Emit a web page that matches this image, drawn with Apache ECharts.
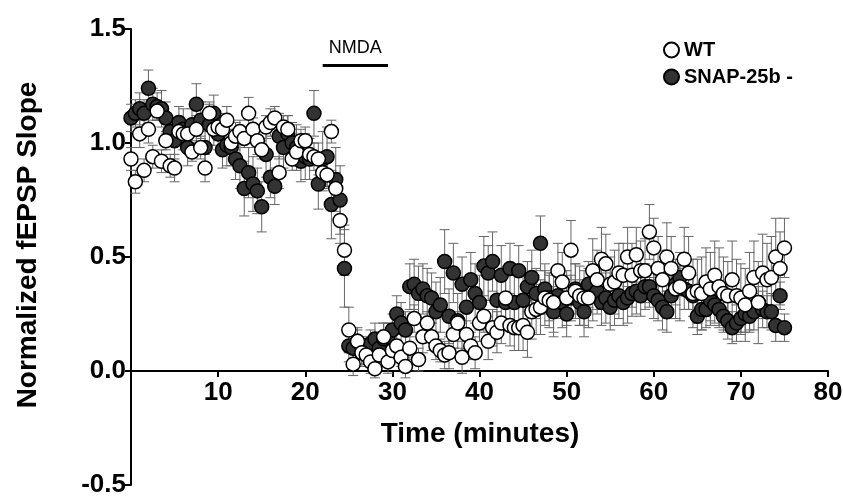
<!DOCTYPE html>
<html><head><meta charset="utf-8">
<script src="https://cdn.jsdelivr.net/npm/echarts@6/dist/echarts.min.js"></script>
<style>html,body{margin:0;padding:0;background:#fff}#c{width:843px;height:496px}</style>
</head><body><div id="c"></div>
<script>
// Time (minutes), sampled every 30 s
const time = [0,0.5,1,1.5,2,2.5,3,3.5,4,4.5,5,5.5,6,6.5,7,7.5,8,8.5,9,9.5,10,
10.5,11,11.5,12,12.5,13,13.5,14,14.5,15,15.5,16,16.5,17,17.5,18,18.5,19,19.5,20,
20.5,21,21.5,22,22.5,23,23.5,24,24.5,25,25.5,26,26.5,27,27.5,28,28.5,29,29.5,30,
30.5,31,31.5,32,32.5,33,33.5,34,34.5,35,35.5,36,36.5,37,37.5,38,38.5,39,39.5,40,
40.5,41,41.5,42,42.5,43,43.5,44,44.5,45,45.5,46,46.5,47,47.5,48,48.5,49,49.5,50,
50.5,51,51.5,52,52.5,53,53.5,54,54.5,55,55.5,56,56.5,57,57.5,58,58.5,59,59.5,60,
60.5,61,61.5,62,62.5,63,63.5,64,64.5,65,65.5,66,66.5,67,67.5,68,68.5,69,69.5,70,
70.5,71,71.5,72,72.5,73,73.5,74,74.5,75];

const wtMean = [0.93,0.83,1.04,0.88,1.06,0.94,1.14,0.92,1.01,0.90,0.89,1.05,1.04,1.04,0.96,1.06,0.98,0.89,1.13,1.06,1.07,
1.06,1.10,1.00,1.03,1.05,1.02,1.13,1.06,1.01,0.97,1.07,1.09,1.11,0.87,1.07,1.06,0.93,0.96,1.01,1.01,
0.95,0.94,0.93,0.87,0.86,1.05,0.80,0.66,0.53,0.18,0.03,0.13,0.08,0.07,0.04,0.01,0.07,0.15,0.04,0.09,
0.11,0.06,0.02,0.10,0.23,0.05,0.15,0.21,0.15,0.11,0.09,0.07,0.08,0.16,0.21,0.06,0.16,0.11,0.08,0.21,
0.24,0.13,0.19,0.17,0.21,0.32,0.20,0.19,0.19,0.20,0.17,0.26,0.27,0.28,0.32,0.31,0.30,0.44,0.39,0.32,
0.53,0.35,0.33,0.32,0.32,0.44,0.40,0.49,0.47,0.38,0.39,0.43,0.42,0.50,0.42,0.51,0.44,0.44,0.61,0.54,
0.45,0.40,0.50,0.45,0.36,0.37,0.49,0.43,0.34,0.35,0.34,0.39,0.36,0.42,0.37,0.34,0.33,0.40,0.33,0.32,
0.29,0.35,0.41,0.30,0.43,0.40,0.41,0.50,0.45,0.54];

const wtErr = [0.05,0.05,0.06,0.05,0.06,0.05,0.04,0.05,0.04,0.05,0.06,0.04,0.05,0.05,0.04,0.06,0.05,0.06,0.05,0.07,0.06,
0.05,0.06,0.05,0.06,0.05,0.04,0.07,0.05,0.06,0.04,0.05,0.06,0.05,0.07,0.05,0.06,0.05,0.06,0.05,0.06,
0.05,0.06,0.07,0.08,0.06,0.05,0.07,0.10,0.11,0.10,0.05,0.06,0.05,0.04,0.05,0.04,0.05,0.06,0.05,0.04,
0.05,0.04,0.05,0.05,0.06,0.05,0.07,0.05,0.06,0.06,0.05,0.06,0.07,0.06,0.05,0.07,0.06,0.06,0.07,0.08,
0.07,0.08,0.08,0.09,0.09,0.10,0.09,0.10,0.10,0.11,0.11,0.12,0.11,0.12,0.12,0.12,0.13,0.12,0.13,0.12,
0.13,0.12,0.13,0.12,0.13,0.14,0.13,0.14,0.13,0.12,0.14,0.13,0.14,0.13,0.14,0.12,0.13,0.14,0.12,0.13,
0.14,0.13,0.15,0.14,0.13,0.15,0.14,0.16,0.15,0.14,0.16,0.15,0.16,0.15,0.17,0.16,0.15,0.17,0.16,0.15,
0.16,0.17,0.16,0.18,0.17,0.16,0.18,0.17,0.16,0.13];

const snapMean = [1.11,1.13,1.15,1.13,1.24,1.17,1.16,1.15,1.11,1.05,1.01,1.09,1.06,0.98,1.08,1.17,1.10,0.98,1.08,1.13,1.04,
0.97,0.99,0.98,0.93,0.90,0.80,0.87,0.82,0.79,0.72,0.95,0.85,0.81,1.03,0.98,1.04,1.00,0.98,0.92,0.94,
0.93,1.13,0.82,0.93,0.94,0.73,0.84,0.75,0.45,0.11,0.10,0.13,0.08,0.10,0.12,0.14,0.10,0.14,0.15,0.18,
0.25,0.21,0.18,0.37,0.38,0.34,0.36,0.33,0.32,0.26,0.29,0.48,0.24,0.43,0.22,0.38,0.28,0.40,0.34,0.30,
0.46,0.43,0.48,0.31,0.42,0.30,0.45,0.30,0.44,0.31,0.37,0.41,0.34,0.56,0.36,0.32,0.26,0.33,0.30,0.25,
0.32,0.36,0.30,0.26,0.38,0.33,0.35,0.30,0.32,0.28,0.31,0.33,0.30,0.32,0.34,0.35,0.33,0.37,0.37,0.33,
0.31,0.28,0.26,0.33,0.38,0.41,0.36,0.35,0.33,0.24,0.27,0.27,0.31,0.29,0.27,0.24,0.22,0.19,0.21,0.23,
0.25,0.24,0.26,0.30,0.27,0.26,0.26,0.20,0.33,0.19];

const snapErr = [0.06,0.06,0.07,0.06,0.08,0.07,0.06,0.08,0.07,0.06,0.08,0.07,0.09,0.08,0.07,0.09,0.08,0.07,0.09,0.08,0.07,
0.08,0.09,0.08,0.09,0.10,0.12,0.11,0.12,0.10,0.11,0.10,0.09,0.08,0.10,0.09,0.08,0.09,0.10,0.09,0.10,
0.09,0.10,0.11,0.12,0.13,0.15,0.14,0.15,0.17,0.07,0.06,0.05,0.06,0.05,0.06,0.07,0.06,0.07,0.06,0.07,
0.08,0.09,0.08,0.10,0.11,0.12,0.11,0.12,0.11,0.13,0.12,0.14,0.12,0.13,0.12,0.12,0.13,0.12,0.13,0.12,
0.13,0.12,0.13,0.12,0.13,0.12,0.11,0.12,0.11,0.12,0.11,0.12,0.11,0.12,0.11,0.10,0.11,0.10,0.11,0.10,
0.10,0.11,0.10,0.11,0.10,0.11,0.10,0.10,0.11,0.10,0.11,0.10,0.10,0.11,0.10,0.10,0.09,0.10,0.09,0.10,
0.09,0.10,0.09,0.10,0.09,0.08,0.09,0.08,0.09,0.08,0.09,0.08,0.09,0.08,0.08,0.07,0.08,0.07,0.08,0.07,
0.08,0.07,0.08,0.07,0.08,0.07,0.08,0.07,0.06,0.06];

const seriesNames = ['WT', 'SNAP-25b -'];
const nmdaBar = [22, 29.5, 1.34];   // start, end (min), level
const nmdaLabel = 'NMDA';
const xTitle = 'Time (minutes)';
const yTitle = 'Normalized fEPSP Slope';

const FONT = '"Liberation Sans", Arial, Helvetica, sans-serif';
const chart = echarts.init(document.getElementById('c'), null, {renderer: 'canvas'});

function errData(mean, err) { return time.map((t, i) => [t, mean[i], err[i]]); }
function pts(mean) { return time.map((t, i) => [t, mean[i]]); }
function errRender(params, api) {
  const t = api.value(0), m = api.value(1), e = api.value(2);
  const top = api.coord([t, m + e]);
  const bot = api.coord([t, m - e]);
  const cw = 5;
  const st = {stroke: '#666', lineWidth: 1};
  return {type: 'group', children: [
    {type: 'line', shape: {x1: top[0], y1: top[1], x2: bot[0], y2: bot[1]}, style: st},
    {type: 'line', shape: {x1: top[0] - cw, y1: top[1], x2: top[0] + cw, y2: top[1]}, style: st},
    {type: 'line', shape: {x1: bot[0] - cw, y1: bot[1], x2: bot[0] + cw, y2: bot[1]}, style: st}
  ]};
}

const option = {
  animation: false,
  backgroundColor: '#fff',
  grid: {left: 131, right: 15, top: 29, bottom: 11, containLabel: false, outerBoundsMode: 'none'},
  xAxis: {
    type: 'value', min: 0, max: 80, interval: 10, position: 'bottom', offset: -114,
    axisLine: {show: true, onZero: false, lineStyle: {color: '#000', width: 2}},
    axisTick: {show: true, length: 6, lineStyle: {color: '#000', width: 2}},
    axisLabel: {margin: 9, color: '#000', fontFamily: FONT, fontWeight: 'bold', fontSize: 26,
      formatter: v => v === 0 ? '' : String(v)},
    splitLine: {show: false}
  },
  yAxis: {
    type: 'value', min: -0.5, max: 1.5, interval: 0.5,
    axisLine: {show: true, lineStyle: {color: '#000', width: 2}},
    axisTick: {show: true, length: 6, lineStyle: {color: '#000', width: 2}},
    axisLabel: {margin: 5, color: '#000', fontFamily: FONT, fontWeight: 'bold', fontSize: 26,
      formatter: v => v.toFixed(1)},
    splitLine: {show: false}
  },
  legend: {
    data: seriesNames, orient: 'vertical', left: 658, top: 35,
    icon: 'circle', itemWidth: 15, itemHeight: 15, itemGap: 7,
    textStyle: {color: '#000', fontFamily: FONT, fontWeight: 'bold', fontSize: 20}
  },
  graphic: [
    {type: 'text', rotation: Math.PI / 2, x: 28, y: 245,
      style: {text: yTitle, font: 'bold 28px ' + FONT, fill: '#000', textAlign: 'center', textVerticalAlign: 'middle'}},
    {type: 'text', x: 480, y: 434,
      style: {text: xTitle, font: 'bold 28px ' + FONT, fill: '#000', textAlign: 'center', textVerticalAlign: 'middle'}}
  ],
  series: [
    {name: 'snapErr', type: 'custom', renderItem: errRender, data: errData(snapMean, snapErr), z: 1, silent: true},
    {name: 'wtErr', type: 'custom', renderItem: errRender, data: errData(wtMean, wtErr), z: 1, silent: true},
    {name: seriesNames[1], type: 'scatter', data: pts(snapMean), symbol: 'circle', symbolSize: 14, z: 3,
      itemStyle: {color: '#333', borderColor: '#000', borderWidth: 1.5, opacity: 1}},
    {name: seriesNames[0], type: 'scatter', data: pts(wtMean), symbol: 'circle', symbolSize: 14, z: 4,
      itemStyle: {color: '#fff', borderColor: '#000', borderWidth: 1.5, opacity: 1}},
    {name: 'nmda', type: 'custom', z: 5, silent: true, data: [nmdaBar],
      renderItem: (params, api) => {
        const a = api.coord([api.value(0), api.value(2)]);
        const b = api.coord([api.value(1), api.value(2)]);
        return {type: 'group', children: [
          {type: 'line', shape: {x1: a[0], y1: a[1], x2: b[0], y2: b[1]}, style: {stroke: '#000', lineWidth: 3}},
          {type: 'text', x: (a[0] + b[0]) / 2, y: a[1] - 17,
            style: {text: nmdaLabel, font: '18px ' + FONT, fill: '#000', textAlign: 'center', textVerticalAlign: 'middle'}}
        ]};
      }}
  ]
};
chart.setOption(option);
</script></body></html>
